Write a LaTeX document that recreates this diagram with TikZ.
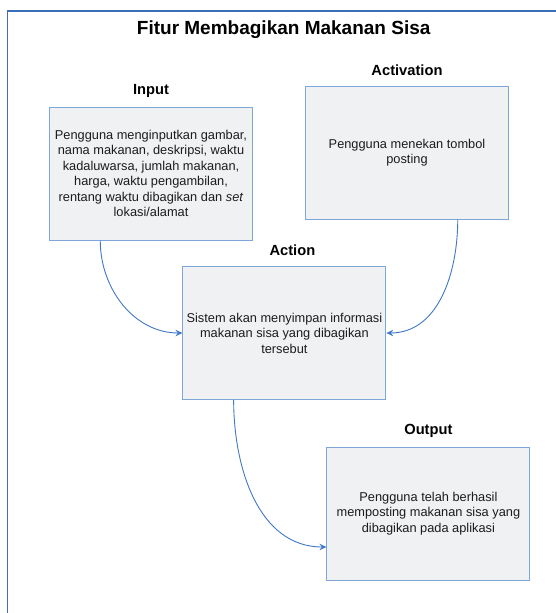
\documentclass[tikz,border=0pt]{standalone}
\usepackage{fontspec}
\setmainfont{Liberation Sans}
\usetikzlibrary{arrows.meta,positioning}
\definecolor{boxfill}{HTML}{F0F1F3}
\definecolor{boxline}{HTML}{7EA6D9}
\definecolor{edgeblue}{HTML}{3F78C4}
\definecolor{framblue}{HTML}{3C6FB8}
\definecolor{txtgray}{HTML}{1C1C1C}

\begin{document}
\begin{tikzpicture}[x=1pt,y=-1pt,
  stepbox/.style={draw=boxline,fill=boxfill,line width=1pt,minimum width=203pt,minimum height=133pt,
    inner sep=0pt,align=center,text=txtgray,font=\fontsize{12.8}{15.5}\selectfont},
  head/.style={inner sep=0pt,text depth=0pt,font=\fontsize{14.7}{17}\selectfont\bfseries},
  flow/.style={draw=edgeblue,line width=0.9pt,-{Stealth[length=7pt,width=6.5pt,inset=2.5pt]}}]
\useasboundingbox (0,0) rectangle (556,613);
\draw [framblue,line width=1.3pt] (7.8,613) -- (7.8,11) -- (556,11);
\node [anchor=base,font=\fontsize{19}{21}\selectfont\bfseries] (title) at (283.7,34) {Fitur Membagikan Makanan Sisa};
\node [stepbox] (inp) at (151,173.5) {Pengguna menginputkan gambar,\\nama makanan, deskripsi, waktu\\kadaluwarsa, jumlah makanan,\\harga, waktu pengambilan,\\rentang waktu dibagikan dan \textit{set}\\lokasi/alamat};
\node [stepbox] (act) at (407,152.5) {Pengguna menekan tombol\\posting};
\node [stepbox] (sys) at (284.4,333) {Sistem akan menyimpan informasi\\makanan sisa yang dibagikan\\tersebut};
\node [stepbox] (out) at (428.4,513.5) {Pengguna telah berhasil\\memposting makanan sisa yang\\dibagikan pada aplikasi};
\node [head,above=12pt of inp] (inplbl) {Input};
\node [head,above=10pt of act] (actlbl) {Activation};
\node [head,above=10.7pt of sys,xshift=8pt] (syslbl) {Action};
\node [head,above=12pt of out] (outlbl) {Output};
\draw [flow] ([xshift=-50.75pt]inp.south) to[out=-90,in=180] (sys.west);
\draw [flow] ([xshift=50.75pt]act.south) to[out=-90,in=0] (sys.east);
\draw [flow] ([xshift=-50.75pt]sys.south) to[out=-90,in=180] ([yshift=-33.5pt]out.west);
\end{tikzpicture}
\end{document}
